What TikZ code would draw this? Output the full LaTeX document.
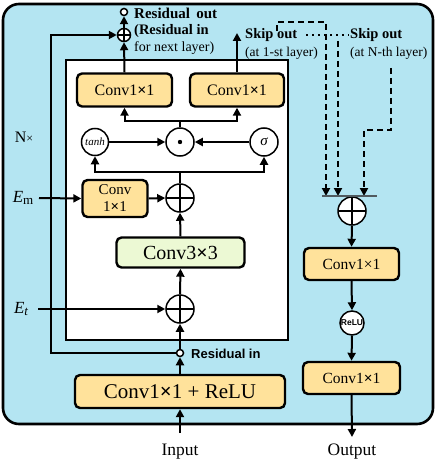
\documentclass[tikz,border=0pt]{standalone}
\usepackage{fontspec}
\setmainfont{Liberation Serif}
\newfontfamily\sansb{Liberation Sans}
\usetikzlibrary{arrows.meta}
\definecolor{bluebg}{RGB}{180,229,242}
\definecolor{convyellow}{RGB}{255,226,155}
\definecolor{convgreen}{RGB}{236,249,212}
\definecolor{bargray}{RGB}{80,90,95}
\tikzset{
  arr/.style={line width=2pt, -{Triangle[length=8pt,width=8pt]}},
  ln/.style={line width=2pt},
  dsh/.style={line width=2pt, dash pattern=on 6pt off 4pt, -{Triangle[length=8pt,width=8pt]}},
  convbox/.style={draw, line width=2.4pt, rounded corners=5pt, fill=convyellow, inner sep=0pt, align=center},
  circ/.style={circle, draw, line width=1.5pt, fill=white, inner sep=0pt},
  oplus/.style={circ, path picture={\draw[line width=1.5pt] (path picture bounding box.north) -- (path picture bounding box.south) (path picture bounding box.east) -- (path picture bounding box.west);}},
  odot/.style={circ, path picture={\fill[black] (path picture bounding box.center) circle (2.2pt);}},
  small/.style={circle, draw, line width=1.5pt, fill=white, inner sep=0pt, minimum size=7pt},
  lbl/.style={inner sep=0pt, anchor=west},
}
\begin{document}
\begin{tikzpicture}[x=1pt, y=-1pt]
\useasboundingbox (0,0) rectangle (437,465);
% background
\draw[line width=2.6pt, fill=bluebg, rounded corners=16pt] (3,4) rectangle (433,424);
\draw[line width=2pt, fill=white] (66,60) rectangle (288,340);

% left column nodes
\node[convbox, minimum width=95pt, minimum height=33pt, font=\fontsize{16}{18}\selectfont] (cl) at (124.5,90) {Conv1{\bfseries×}1};
\node[convbox, minimum width=94pt, minimum height=33pt, font=\fontsize{16}{18}\selectfont] (cr2) at (237,90) {Conv1{\bfseries×}1};
\node[circ, minimum size=27pt, font=\fontsize{11}{12}\selectfont\itshape] (tanh) at (95,142) {tanh};
\node[odot, minimum size=28pt] (dot) at (180,142) {};
\node[circ, minimum size=28pt, font=\fontsize{15}{16}\selectfont\itshape] (sig) at (264,142) {σ};
\node[convbox, minimum width=65pt, minimum height=37pt, font=\fontsize{15}{16}\selectfont] (cem) at (115,198.5) {Conv\\[1pt]1{\bfseries×}1};
\node[oplus, minimum size=28pt] (op2) at (180,198) {};
\node[convbox, fill=convgreen, minimum width=128pt, minimum height=30pt, font=\fontsize{20}{22}\selectfont] (c33) at (180.5,252.5) {Conv3{\bfseries×}3};
\node[oplus, minimum size=28pt] (op3) at (180,309) {};
\node[small] (rin) at (180,353) {};
\node[convbox, minimum width=210pt, minimum height=33pt, font=\fontsize{21}{23}\selectfont] (crelu) at (180,391.5) {Conv1{\bfseries×}1 + ReLU};
\node[inner sep=0pt, font=\fontsize{17.5}{19}\selectfont] (inp) at (180,452) {Input};
\coordinate (inpa) at (180,433);

\node[oplus, minimum size=13pt] (op1) at (124,35) {};
\node[small] (rout) at (124,12) {};

% right column
\node[oplus, minimum size=28pt] (op4) at (352,211) {};
\node[convbox, minimum width=95pt, minimum height=32pt, font=\fontsize{15.5}{18}\selectfont] (cr1) at (351.5,264) {Conv1×1};
\node[circ, minimum size=24pt, font=\sansb\bfseries\fontsize{8.5}{9}\selectfont] (relu) at (352,323) {ReLU};
\node[convbox, minimum width=97pt, minimum height=32pt, font=\fontsize{15.5}{18}\selectfont] (cr3) at (351.5,378) {Conv1{\bfseries×}1};
\node[inner sep=0pt, font=\fontsize{17.5}{19}\selectfont] (outp) at (352,452) {Output};
\coordinate (outa) at (352,437);

% labels
\node[lbl, font=\fontsize{15}{16}\selectfont\bfseries] (t1) at (134,13) {Residual\, out};
\node[lbl, font=\fontsize{14.5}{16}\selectfont\bfseries] (t2) at (134,31) {(Residual in};
\node[lbl, font=\fontsize{14}{16}\selectfont] (t3) at (134,48) {for next layer)};
\node[lbl, font=\fontsize{14.5}{16}\selectfont\bfseries] (s1) at (245,35) {Skip out};
\node[lbl, font=\fontsize{13.5}{16}\selectfont] (s1b) at (245,53) {(at 1-st layer)};
\node[lbl, font=\fontsize{14.5}{16}\selectfont\bfseries] (s2) at (350,35) {Skip out};
\node[lbl, font=\fontsize{13.5}{16}\selectfont] (s2b) at (350,53) {(at N-th layer)};
\node[inner sep=0pt, font=\fontsize{16}{17}\selectfont] (nx) at (24,137) {N{\fontsize{12}{13}\selectfont×}};
\node[inner sep=0pt, font=\fontsize{17}{18}\selectfont] (em) at (23,198) {\textit{E}\raisebox{-0.35ex}{\fontsize{13}{14}\selectfont m}};
\node[inner sep=0pt, font=\fontsize{17}{18}\selectfont] (et) at (21,309) {\textit{E}\raisebox{-0.35ex}{\fontsize{13}{14}\selectfont\itshape t}};
\node[lbl, font=\sansb\bfseries\fontsize{13}{14}\selectfont] (rint) at (191,354) {Residual in};
\coordinate (ema) at (39,198);
\coordinate (eta) at (38,309);

% main flow
\draw[arr] (inpa) -- (crelu.south);
\draw[arr] (crelu.north) -- (rin.south);
\draw[arr] (rin.north) -- (op3.south);
\draw[arr] (op3.north) -- (c33.south);
\draw[arr] (c33.north) -- (op2.south);
\draw[arr] (ema) -- (cem.west);
\draw[arr] (cem.east) -- (op2.west);
\draw[arr] (eta) -- (op3.west);
\coordinate (br1) at (180,172);
\draw[ln] (op2.north) -- (br1);
\draw[arr] (br1) -| (tanh.south);
\draw[arr] (br1) -| (sig.south);
\draw[arr] (tanh.east) -- (dot.west);
\draw[arr] (sig.west) -- (dot.east);
\coordinate (br2) at (180,121);
\draw[ln] (dot.north) -- (br2);
\draw[arr] (br2) -| (cl.south);
\draw[arr] (br2) -| (cr2.south);
\draw[arr] (cl.north) -- (op1.south);
\draw[arr] (op1.north) -- (rout.south);
% residual loop
\coordinate (lp1) at (51,353);
\coordinate (lp2) at (51,35);
\draw[arr] (rin.west) -- (lp1) -- (lp2) -- (op1.west);
% skip out
\coordinate (sk1) at (237,33);
\draw[arr] (cr2.north) -- (sk1);

% dashed skip connections
\coordinate (d1a) at (277,31);
\coordinate (d1b) at (277,22);
\coordinate (d1c) at (326,22);
\coordinate (d1e) at (326,196);
\coordinate (d2a) at (338,41);
\coordinate (d2e) at (338,196);
\coordinate (d3a) at (391,68);
\coordinate (d3b) at (391,130);
\coordinate (d3c) at (364,130);
\coordinate (d3e) at (364,196);
\coordinate (dt1) at (306,35);
\coordinate (dt2) at (349,35);
\draw[line width=2pt, dash pattern=on 2pt off 4pt] (dt1) -- (dt2);
\draw[dsh] (d1a) -- (d1b) -- (d1c) -- (d1e);
\draw[dsh] (d2a) -- (d2e);
\draw[dsh] (d3a) -- (d3b) -- (d3c) -- (d3e);
\coordinate (bl) at (322,196);
\coordinate (brr) at (377,196);
\draw[line width=1.5pt, bargray] (bl) -- (brr);

\draw[arr] (op4.south) -- (cr1.north);
\draw[arr] (cr1.south) -- (relu.north);
\draw[arr] (relu.south) -- (cr3.north);
\draw[arr] (cr3.south) -- (outa);
\end{tikzpicture}
\end{document}
